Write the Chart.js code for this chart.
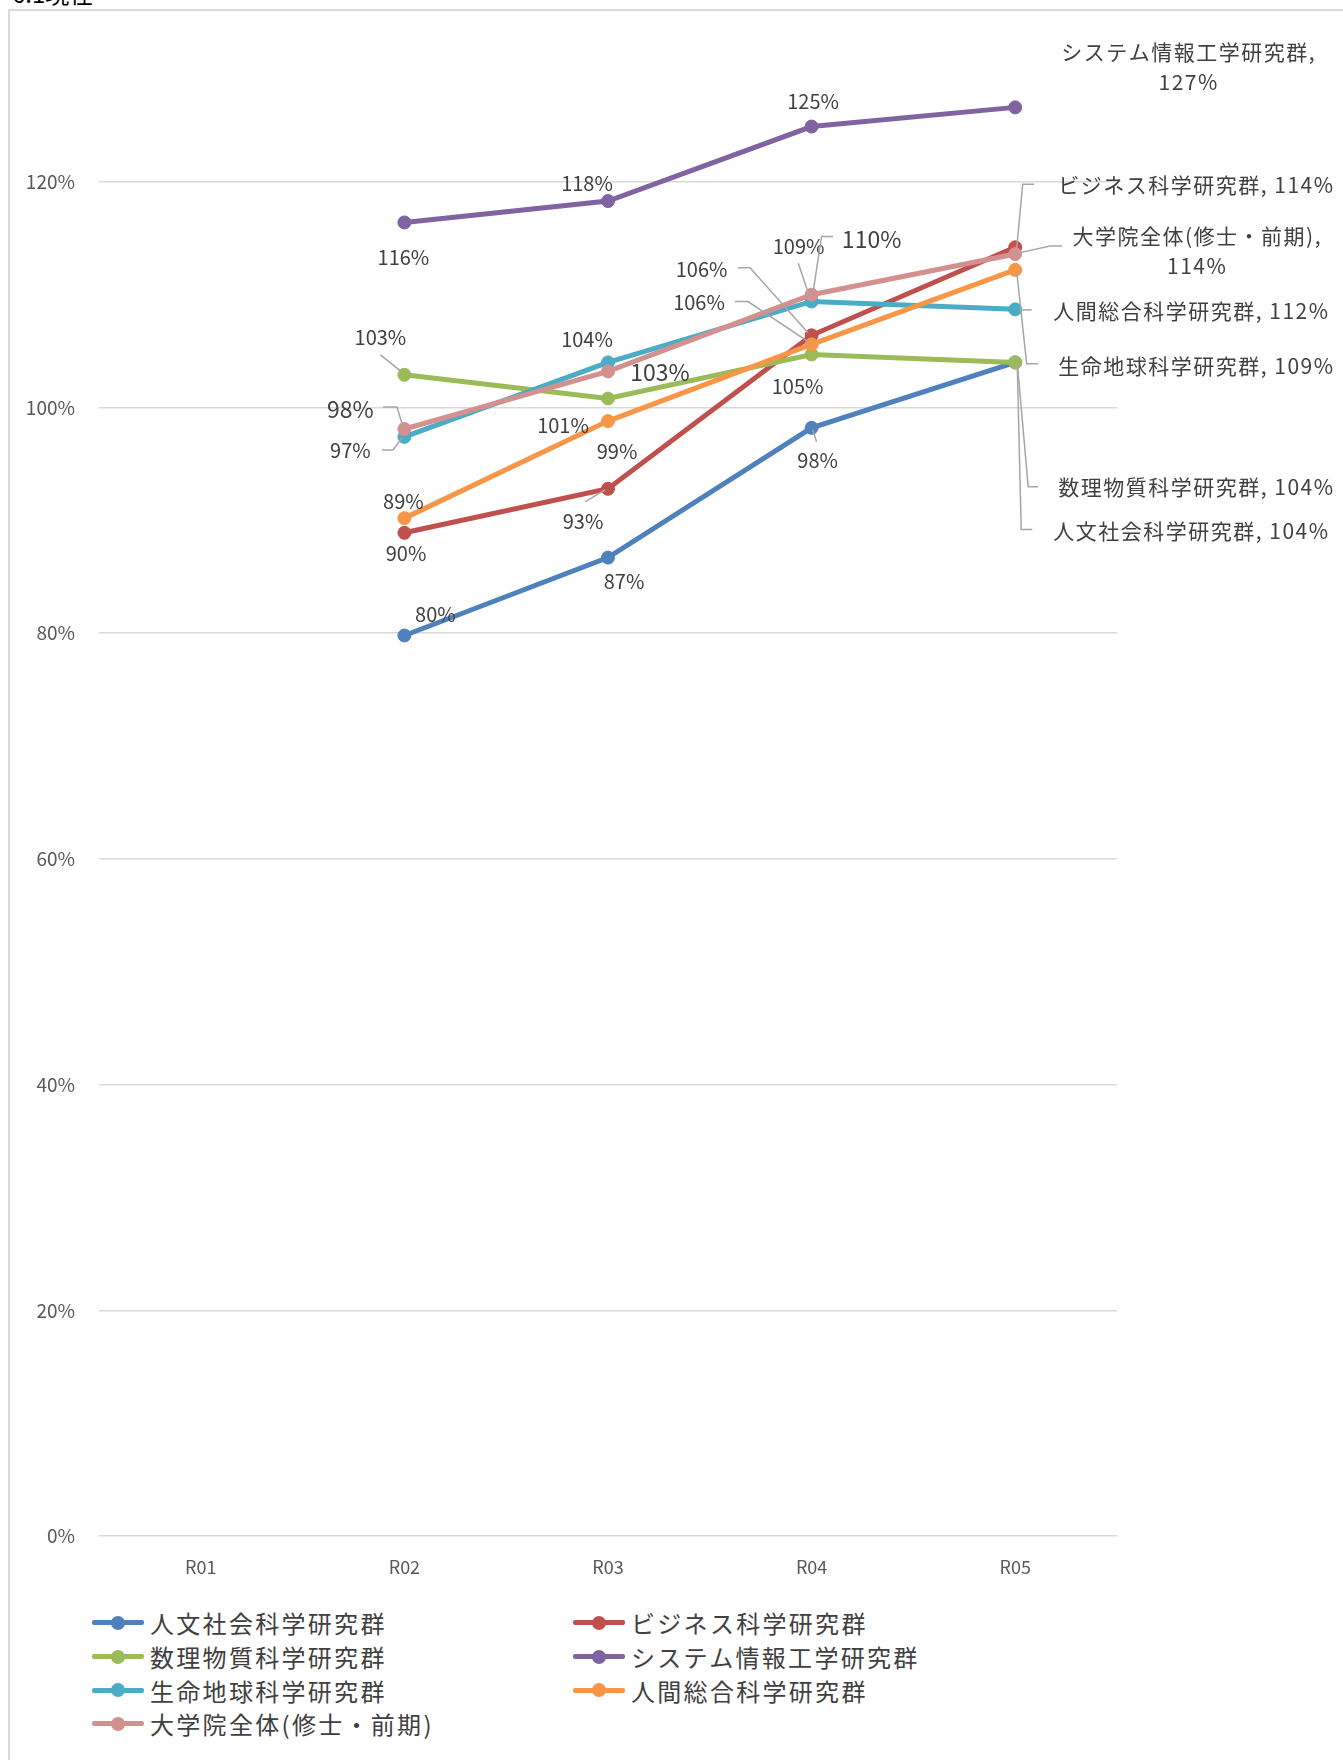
<!DOCTYPE html>
<html>
<head>
<meta charset="utf-8">
<script src="https://cdn.jsdelivr.net/npm/chart.js"></script>
<style>
  html, body { margin: 0; padding: 0; background: #fff; overflow: hidden; }
  body { width: 1343px; height: 1760px; position: relative; font-family: "Noto Sans CJK JP", "Noto Sans", sans-serif; }
  #title { position: absolute; left: 12px; top: -19px; font-size: 24px; line-height: 24px; color: #000; }
  #box { position: absolute; left: 8px; top: 9px; width: 1400px; height: 1800px; border: 2px solid #d9d9d9; box-sizing: border-box; }
  #chart { position: absolute; left: 0; top: 0; }
  #legend { position: absolute; left: 92px; top: 1606px; display: grid; grid-template-columns: 481px 500px; row-gap: 0; }
  .item { display: flex; align-items: center; height: 33.7px; font-size: 24px; letter-spacing: 2.3px; color: #404040; white-space: nowrap; }
  .sw { position: relative; width: 52px; height: 5px; margin-right: 6px; border-radius: 2px; }
  .sw i { position: absolute; left: 19px; top: -4.5px; width: 14px; height: 14px; border-radius: 50%; }
</style>
</head>
<body>
<div id="title">6.1現在</div>
<div id="box"></div>
<canvas id="chart" width="1343" height="1600"></canvas>
<div id="legend"></div>
<script>
// 年度
const years = ['R01', 'R02', 'R03', 'R04', 'R05'];

// 系列名
const seriesNames = [
    '人文社会科学研究群',
    'ビジネス科学研究群',
    '数理物質科学研究群',
    'システム情報工学研究群',
    '生命地球科学研究群',
    '人間総合科学研究群',
    '大学院全体(修士・前期)'
];

// 値 (%)  R01 はデータなし
const jinbun   = [null, 79.8, 86.7, 98.2, 104.0];
const business = [null, 88.9, 92.8, 106.4, 114.2];
const suri     = [null, 102.9, 100.8, 104.7, 104.0];
const system   = [null, 116.4, 118.3, 124.9, 126.6];
const seimei   = [null, 97.4, 104.0, 109.4, 108.7];
const ningen   = [null, 90.2, 98.8, 105.6, 112.2];
const zentai   = [null, 98.1, 103.2, 110.0, 113.6];

// 目盛
const yTicks = [0, 20, 40, 60, 80, 100, 120];

const colors = ['#4F81BD', '#C0504D', '#9BBB59', '#8064A2', '#4BACC6', '#F79646', '#D4908F'];

// データラベルの配置 (点からのオフセット)
const labelLayout = [
    [null, {dx: 31, dy: -21}, {dx: 16, dy: 24}, {dx: 6, dy: 33, leader: [[1, 2], [5, 14]]},
        {dx: 38, dy: 169, align: 'left', name: true, leader: [[2, 0], [6, 167], [17, 167]]}],
    [null, {dx: -1, dy: -31}, {dx: -25, dy: 33, leader: [[-23, 13], [-3, 1]]},
        {dx: -110, dy: -65.5, leader: [[-73.6, -67.5], [-61.6, -67.5], [-3.6, -2.5]]},
        {dx: 43, dy: -62, align: 'left', name: true, leader: [[1.5, 1], [7.5, -63], [19, -63]]}],
    [null, {dx: -24, dy: -37, leader: [[-24, -20], [-4, -4]]}, {dx: -45, dy: 27}, {dx: -14, dy: 32},
        {dx: 43, dy: 124.4, align: 'left', name: true, leader: [[2, 0], [13, 124.4], [23, 124.4]]}],
    [null, {dx: -1, dy: 35}, {dx: -21, dy: -18}, {dx: 1.5, dy: -25},
        {dx: 173.5, dy: -55.6, name: true, wrap: true}],
    [null, {dx: -54, dy: 14, leader: [[-22.4, 13], [-11.4, 13], [-2.4, 1]]}, {dx: -21, dy: -23},
        {dx: -13, dy: -55, leader: [[-13.3, -38.3], [-1.6, -3.3]]},
        {dx: 43, dy: 56.5, align: 'left', name: true, leader: [[1.5, -37.8], [11.5, 54.5], [23, 54.5]]}],
    [null, {dx: 1.6, dy: 35}, {dx: 9, dy: 30},
        {dx: -112.6, dy: -41.8, leader: [[-76.6, -42.8], [-63.6, -42.8], [-1.6, -1.5]]},
        {dx: 38, dy: 41, align: 'left', name: true, leader: [[4.8, 40], [16.5, 40]]}],
    [null, {dx: -54, dy: -20, big: true, leader: [[-21.4, -22], [-7.4, -22], [-1.4, -2]]},
        {dx: 52, dy: 1, big: true},
        {dx: 60, dy: -55, big: true, leader: [[21.4, -58.3], [10, -58.3], [1.4, -2]]},
        {dx: 182, dy: -18.5, name: true, wrap: true, leader: [[1.5, -0.7], [34.8, -8], [46.8, -8]]}]
];

const FONT = '"Noto Sans CJK JP", "Noto Sans", sans-serif';

const pointLabels = {
    id: 'pointLabels',
    afterDatasetsDraw(chart) {
        const ctx = chart.ctx;
        ctx.save();
        chart.data.datasets.forEach((ds, i) => {
            const meta = chart.getDatasetMeta(i);
            labelLayout[i].forEach((lb, j) => {
                if (!lb || ds.data[j] == null) return;
                const x0 = meta.data[j].x, y0 = meta.data[j].y;
                if (lb.leader) {
                    ctx.strokeStyle = '#a6a6a6';
                    ctx.lineWidth = 1.5;
                    ctx.beginPath();
                    lb.leader.forEach(([dx, dy], k) => {
                        if (k === 0) ctx.moveTo(x0 + dx, y0 + dy);
                        else ctx.lineTo(x0 + dx, y0 + dy);
                    });
                    ctx.stroke();
                }
                const pct = Math.round(ds.data[j]) + '%';
                let lines = [pct];
                if (lb.name) lines = lb.wrap ? [ds.label + ',', pct] : [ds.label + ', ' + pct];
                const size = lb.big ? 23 : (lb.name ? 21 : 20);
                ctx.font = size + 'px ' + FONT;
                ctx.letterSpacing = lb.name ? '1.5px' : '0px';
                ctx.fillStyle = '#404040';
                ctx.textAlign = lb.align || 'center';
                ctx.textBaseline = 'middle';
                lines.forEach((t, k) => ctx.fillText(t, x0 + lb.dx, y0 + lb.dy + k * 30));
            });
        });
        ctx.restore();
    }
};

const values = [jinbun, business, suri, system, seimei, ningen, zentai];

const chart = new Chart(document.getElementById('chart'), {
    type: 'line',
    data: {
        labels: years,
        datasets: seriesNames.map((name, i) => ({
            label: name,
            data: values[i],
            borderColor: colors[i],
            backgroundColor: colors[i],
            borderWidth: 5,
            pointRadius: 6.5,
            pointBorderWidth: 1,
            pointHoverRadius: 6.5,
            order: seriesNames.length - i,
            tension: 0
        }))
    },
    options: {
        responsive: false,
        animation: false,
        layout: { padding: { top: 69, right: 226, left: 0, bottom: 0 } },
        plugins: {
            legend: { display: false },
            tooltip: { enabled: false }
        },
        scales: {
            x: {
                offset: true,
                grid: { display: false },
                border: { display: false },
                ticks: { color: '#595959', font: { size: 18, family: FONT }, padding: 12 },
                afterFit(scale) { scale.height = 64; }
            },
            y: {
                min: 0,
                max: 130,
                border: { display: false },
                grid: { color: '#d9d9d9', lineWidth: 1.5, drawTicks: false },
                ticks: {
                    color: '#595959',
                    font: { size: 19, family: FONT },
                    padding: 24,
                    callback: v => v + '%'
                },
                afterBuildTicks(scale) {
                    scale.ticks = yTicks.map(v => ({ value: v }));
                },
                afterFit(scale) { scale.width = 99; }
            }
        }
    },
    plugins: [pointLabels]
});

// 凡例
const legend = document.getElementById('legend');
chart.data.datasets.forEach(ds => {
    const item = document.createElement('div');
    item.className = 'item';
    item.innerHTML = '<span class="sw" style="background:' + ds.borderColor + '"><i style="background:' +
        ds.borderColor + '"></i></span>' + ds.label;
    legend.appendChild(item);
});
</script>
</body>
</html>
